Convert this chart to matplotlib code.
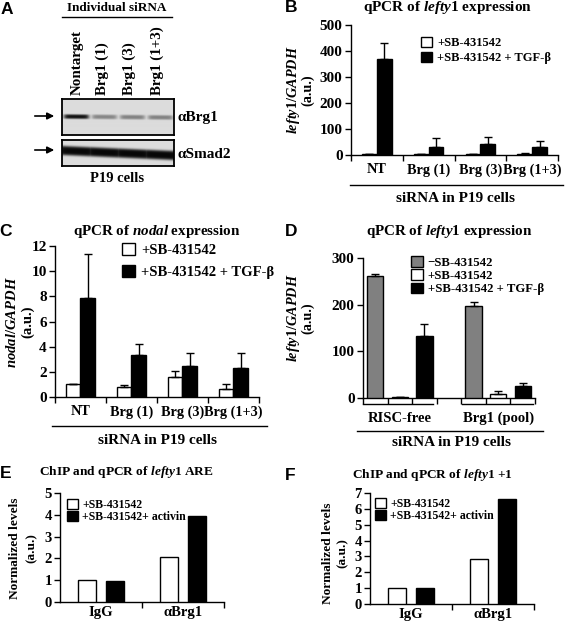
import matplotlib
matplotlib.use('Agg')
import matplotlib.pyplot as plt
import numpy as np
from matplotlib.lines import Line2D
from matplotlib.patches import FancyArrowPatch

# ---------------- data ----------------
blot_lanes = ['Nontarget', 'Brg1 (1)', 'Brg1 (3)', 'Brg1 (1+3)']
brg1_band = [0.95, 0.40, 0.42, 0.42]
smad2_band = [1.0, 1.0, 1.0, 1.0]

b_cats = ['NT', 'Brg (1)', 'Brg (3)', 'Brg (1+3)']
b_sb = [2, 2, 3, 4]
b_sb_err = [0, 0, 0, 2]
b_tgf = [370, 30, 43, 30]
b_tgf_err = [60, 35, 25, 22]

c_cats = ['NT', 'Brg (1)', 'Brg (3)', 'Brg (1+3)']
c_sb = [1.0, 0.8, 1.6, 0.6]
c_sb_err = [0.0, 0.12, 0.5, 0.4]
c_tgf = [7.9, 3.3, 2.5, 2.3]
c_tgf_err = [3.5, 0.9, 1.0, 1.2]

d_cats = ['RISC-free', 'Brg1 (pool)']
d_minus = [262, 197]
d_minus_err = [3, 8]
d_sb = [2, 8]
d_sb_err = [0, 6]
d_tgf = [132, 26]
d_tgf_err = [26, 7]

e_cats = ['IgG', 'αBrg1']
e_sb = [1.03, 2.07]
e_act = [0.98, 3.93]

f_cats = ['IgG', 'αBrg1']
f_sb = [1.0, 2.85]
f_act = [1.0, 6.6]

lab_sb = '+SB-431542'
lab_tgf = '+SB-431542 + TGF-β'
lab_minus = '\u2212SB-431542'
lab_act = '+SB-431542+ activin'

# ---------------- setup ----------------
W, H = 571, 623
plt.rcParams['font.family'] = ['Liberation Serif', 'DejaVu Serif']
plt.rcParams['font.weight'] = 'bold'
plt.rcParams['mathtext.fontset'] = 'custom'
plt.rcParams['mathtext.it'] = 'Liberation Serif:italic:bold'
plt.rcParams['mathtext.rm'] = 'Liberation Serif:bold'
plt.rcParams['mathtext.bf'] = 'Liberation Serif:bold'
fig = plt.figure(figsize=(W / 100, H / 100), dpi=100)
fig.patch.set_facecolor('white')


def px_axes(x0, y0, x1, y1):
    return fig.add_axes([x0 / W, 1 - y1 / H, (x1 - x0) / W, (y1 - y0) / H])


def ftext(x, y, s, **kw):
    kw.setdefault('ha', 'center')
    kw.setdefault('va', 'center')
    return fig.text(x / W, 1 - y / H, s, **kw)


def fline(x0, x1, y, lw=1.0):
    fig.add_artist(Line2D([x0 / W, x1 / W], [1 - y / H, 1 - y / H], color='black', lw=lw))


def style(ax, ymax, ystep, labelsize=11, xlabelsize=10.5):
    for s in ['top', 'right']:
        ax.spines[s].set_visible(False)
    for s in ['left', 'bottom']:
        ax.spines[s].set_linewidth(1.0)
    ax.set_ylim(0, ymax)
    ax.set_yticks(np.arange(0, ymax + ystep / 2, ystep))
    ax.tick_params(axis='y', direction='out', length=4, width=1, labelsize=labelsize, pad=2)
    ax.tick_params(axis='x', which='major', direction='out', length=4, width=1)
    ax.tick_params(axis='x', which='minor', length=0, labelsize=xlabelsize)


def legend(ax, x, y, fs, spacing):
    leg = ax.legend(loc='upper left', bbox_to_anchor=(x / W, 1 - y / H), bbox_transform=fig.transFigure,
                    frameon=False, fontsize=fs, handlelength=0.9, handleheight=0.9, borderpad=0,
                    borderaxespad=0, labelspacing=spacing, handletextpad=0.4)
    return leg


errkw = dict(ecolor='black', elinewidth=1.0, capsize=3, capthick=1.0)

# ---------------- panel letters ----------------
for letter, (lx, ly) in zip('ABCDEF', [(7, 9), (291, 8), (6, 232), (291, 232), (6, 474), (290, 475)]):
    ftext(lx, ly, letter, family='Liberation Sans', fontsize=12.5, fontweight='bold')

# ---------------- A: western blot ----------------
ftext(117, 8, 'Individual siRNA', fontsize=9.5)
fline(62, 172, 17)
for name, lx in zip(blot_lanes, [77, 102, 129, 157]):
    ftext(lx, 95, name, rotation=90, va='bottom', fontsize=10.8)


def blot_image(ny, nx, intens, yc0, yc1, thick, bg, lane_w):
    yy, xx = np.mgrid[0:ny, 0:nx].astype(float)
    yc = yc0 + (yc1 - yc0) * xx / nx
    vprof = np.exp(-0.5 * ((yy - yc) / thick) ** 4)
    hprof = np.zeros_like(xx)
    step = nx / len(intens)
    for i, a in enumerate(intens):
        cx = step * (i + 0.5)
        hprof = np.maximum(hprof, a / (1 + np.exp((np.abs(xx - cx) - lane_w / 2) / 1.2)))
    return bg - (bg - 0.03) * hprof * vprof


for (y0, y1), intens, yc0, yc1, thick, lw_ in [((99, 135), brg1_band, 17.5, 18.5, 1.8, 24),
                                               ((140, 166), smad2_band, 10, 15, 4.0, 34)]:
    axb = px_axes(62, y0, 174, y1)
    img = blot_image(y1 - y0, 112, intens, yc0, yc1, thick, 0.86, lw_)
    axb.imshow(img, cmap='gray', vmin=0, vmax=1, aspect='auto', interpolation='bilinear')
    axb.set_xticks([])
    axb.set_yticks([])
    for s in axb.spines.values():
        s.set_linewidth(1.3)

for ay in [116, 150]:
    fig.add_artist(FancyArrowPatch((32 / W, 1 - ay / H), (57 / W, 1 - ay / H), transform=fig.transFigure,
                                   arrowstyle='-|>', mutation_scale=10, lw=1.2, color='black'))
ftext(177, 117, 'αBrg1', ha='left', fontsize=11)
ftext(177, 155, 'αSmad2', ha='left', fontsize=11)
ftext(117, 178, 'P19 cells', fontsize=10.5)


# ---------------- grouped bar helper ----------------
def grouped(ax, cats, s1, e1, s2, e2):
    x = np.arange(len(cats))
    w = 0.286
    ax.bar(x - w / 2, s1, w, color='white', edgecolor='black', lw=1.0, label=lab_sb,
           yerr=[np.zeros(len(cats)), e1], error_kw=errkw, zorder=3)
    ax.bar(x + w / 2, s2, w, color='black', edgecolor='black', lw=1.0, label=lab_tgf,
           yerr=[np.zeros(len(cats)), e2], error_kw=errkw, zorder=3)
    ax.set_xlim(-0.5, len(cats) - 0.5)
    ax.set_xticks(np.arange(len(cats) + 1) - 0.5)
    ax.set_xticklabels([])
    ax.set_xticks(x, minor=True)
    ax.set_xticklabels(cats, minor=True)


# ---------------- B ----------------
axB = px_axes(351, 25, 558, 155)
grouped(axB, b_cats, b_sb, b_sb_err, b_tgf, b_tgf_err)
style(axB, 500, 100, xlabelsize=10.3)
axB.tick_params(axis='x', which='minor', pad=6)
legend(axB, 421, 37, 9, 0.2)
ftext(448, 8, r'qPCR of $\mathit{lefty1}$ expression', fontsize=11)
ftext(293, 90, r'$\mathit{lefty1/GAPDH}$', rotation=90, fontsize=10.3)
ftext(308, 90, '(a.u.)', rotation=90, fontsize=10.3)
fline(350, 563, 185)
ftext(455, 199, 'siRNA in P19 cells', fontsize=11)

# ---------------- C ----------------
axC = px_axes(55, 246, 259, 397)
grouped(axC, c_cats, c_sb, c_sb_err, c_tgf, c_tgf_err)
style(axC, 12, 2, xlabelsize=10.3)
axC.tick_params(axis='x', which='minor', pad=6)
legend(axC, 122, 243, 10.5, 0.55)
ftext(157, 232, r'qPCR of $\mathit{nodal}$ expression', fontsize=10.8)
ftext(12, 322, r'$\mathit{nodal/GAPDH}$', rotation=90, fontsize=10.5)
ftext(28, 322, '(a.u.)', rotation=90, fontsize=10.5)
fline(52, 267, 426)
ftext(158, 440, 'siRNA in P19 cells', fontsize=11)

# ---------------- D ----------------
axD = px_axes(363, 258, 535, 398)
slots = 4
xg = np.arange(len(d_cats)) * slots
wd = 0.66
z = np.zeros(len(d_cats))
axD.bar(xg, d_minus, wd, color='#808080', edgecolor='black', lw=1.0, label=lab_minus,
        yerr=[z, d_minus_err], error_kw=errkw, zorder=3)
axD.bar(xg + 1, d_sb, wd, color='white', edgecolor='black', lw=1.0, label=lab_sb,
        yerr=[z, d_sb_err], error_kw=errkw, zorder=3)
axD.bar(xg + 2, d_tgf, wd, color='black', edgecolor='black', lw=1.0, label=lab_tgf,
        yerr=[z, d_tgf_err], error_kw=errkw, zorder=3)
axD.set_xlim(-0.5, 6.5)
axD.set_xticks(np.arange(8) - 0.5)
axD.set_xticklabels([])
axD.set_xticks(xg + 1, minor=True)
axD.set_xticklabels(d_cats, minor=True)
style(axD, 300, 100)
axD.tick_params(axis='x', which='minor', pad=10)
legend(axD, 411, 256, 9.2, 0.05)
ftext(449, 232, r'qPCR of $\mathit{lefty1}$ expression', fontsize=10.8)
ftext(293, 318, r'$\mathit{lefty1/GAPDH}$', rotation=90, fontsize=10.3)
ftext(308, 318, '(a.u.)', rotation=90, fontsize=10.3)
fline(363, 433, 404)
fline(462, 533, 404)
fline(357, 543, 431)
ftext(452, 443, 'siRNA in P19 cells', fontsize=11)


# ---------------- E / F ----------------
def chip(ax, cats, s1, s2):
    x = np.arange(len(cats))
    w = 0.22
    off = 0.17
    ax.bar(x - off, s1, w, color='white', edgecolor='black', lw=1.0, label=lab_sb, zorder=3)
    ax.bar(x + off, s2, w, color='black', edgecolor='black', lw=1.0, label=lab_act, zorder=3)
    ax.set_xlim(-0.5, len(cats) - 0.5)
    ax.set_xticks(np.arange(1, len(cats) + 1) - 0.5)
    ax.set_xticklabels([])
    ax.set_xticks(x, minor=True)
    ax.set_xticklabels(cats, minor=True)


axE = px_axes(60, 493, 224, 602)
chip(axE, e_cats, e_sb, e_act)
style(axE, 5, 1, labelsize=10.5, xlabelsize=10.5)
axE.tick_params(axis='x', which='minor', pad=3)
legend(axE, 67, 499, 8.5, 0.0)
ftext(126, 472, r'ChIP and qPCR of $\mathit{lefty1}$ ARE', fontsize=9.6)
ftext(15, 548, 'Normalized levels', rotation=90, fontsize=9.6)
ftext(32, 548, '(a.u.)', rotation=90, fontsize=9.6)

axF = px_axes(370, 493, 534, 604)
chip(axF, f_cats, f_sb, f_act)
style(axF, 7, 1, labelsize=10.5, xlabelsize=10.5)
axF.tick_params(axis='x', which='minor', pad=3)
legend(axF, 375, 498, 8.5, 0.0)
ftext(432, 475, r'ChIP and qPCR of $\mathit{lefty1}$ +1', fontsize=9.6)
ftext(328, 553, 'Normalized levels', rotation=90, fontsize=9.6)
ftext(343, 553, '(a.u.)', rotation=90, fontsize=9.6)

fig.savefig('out.png', dpi=100, facecolor='white')
